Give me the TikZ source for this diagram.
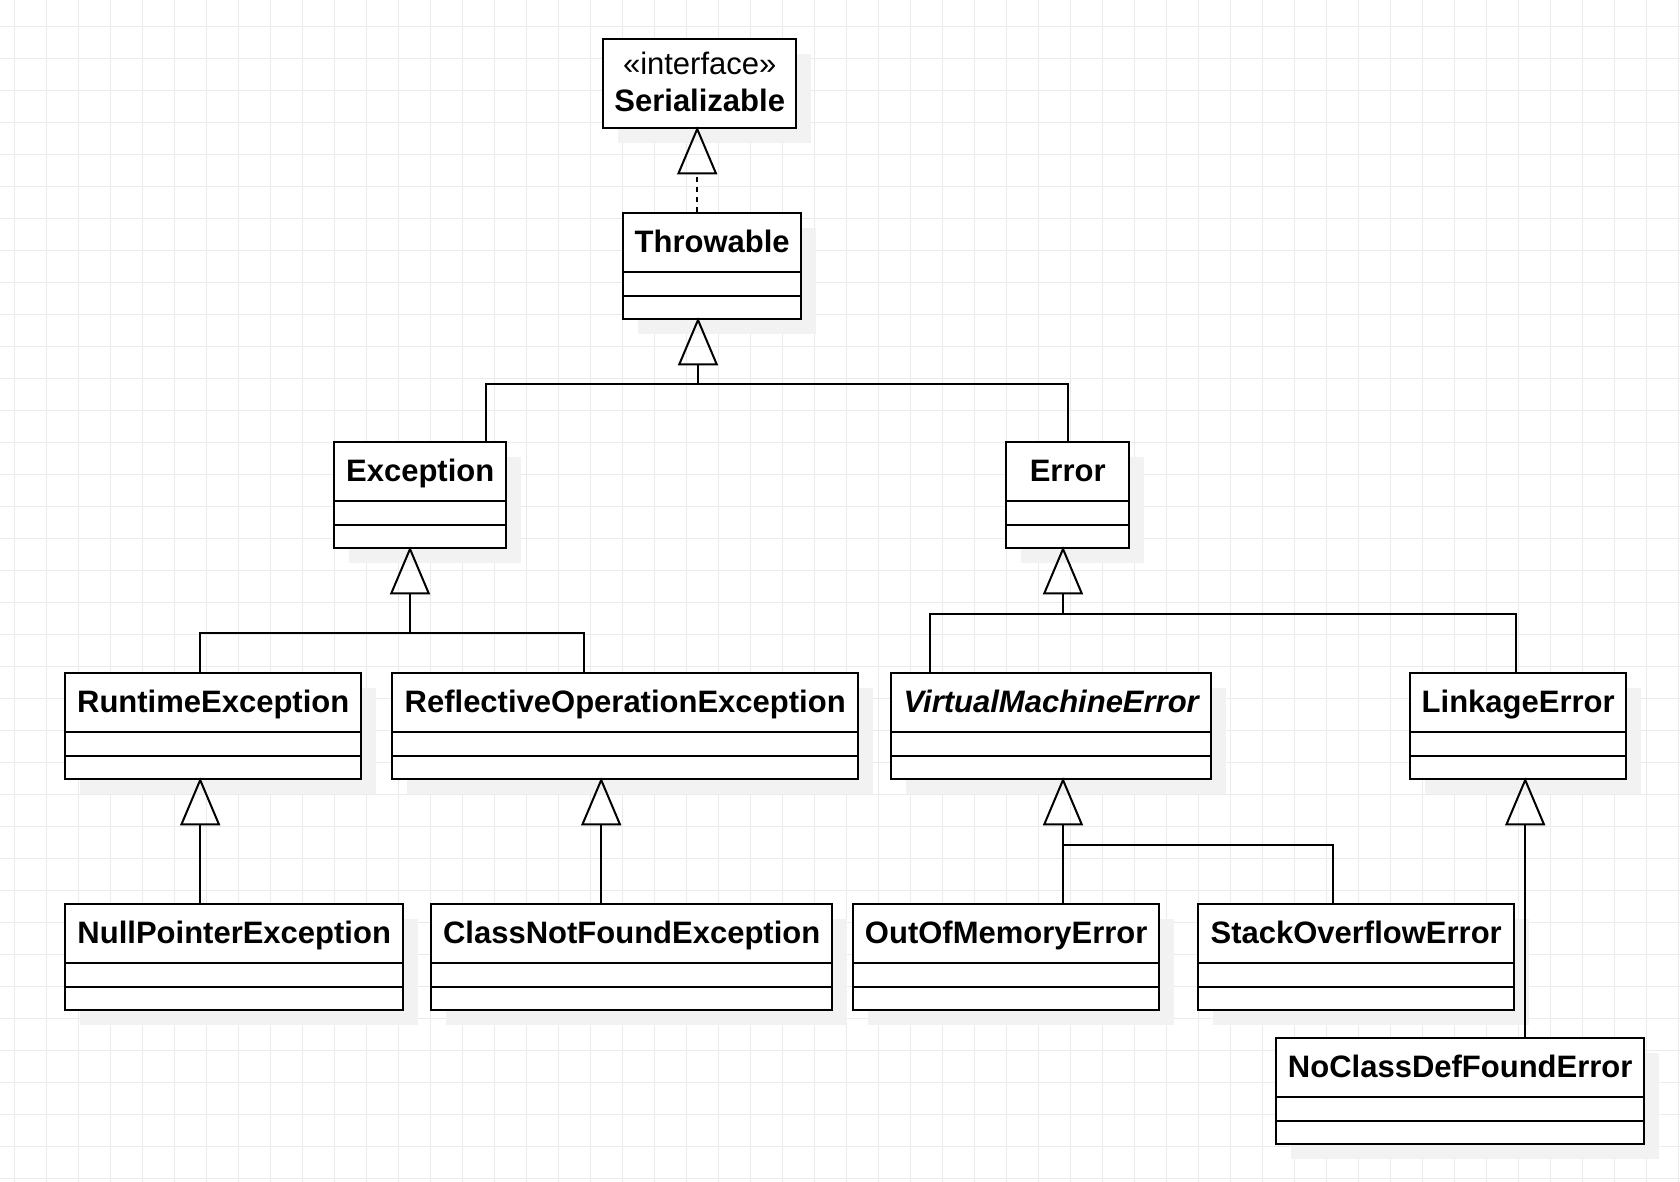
\documentclass[tikz,border=0pt]{standalone}
\usepackage{fontspec}
\setmainfont{Liberation Sans}
\usetikzlibrary{arrows.meta}

\definecolor{gridgray}{HTML}{EBEBEB}
\definecolor{shadowgray}{HTML}{F2F2F2}

\tikzset{
  gridline/.style={draw=gridgray, line width=1pt},
  classbox/.style={draw, line width=2.4pt, fill=white, rectangle, inner sep=0pt, minimum height=106pt},
  classname/.style={inner sep=0pt, font=\fontsize{31}{37}\selectfont\bfseries},
  compline/.style={line width=2pt},
  assoc/.style={line width=2pt},
  inherit/.style={line width=2pt, shorten >=-3pt, -{Triangle[open, length=48pt, width=40pt]}},
  realize/.style={inherit, dash pattern=on 5pt off 5pt},
}

% class box: name, left, right, top, text
\newcommand{\umlclass}[5]{%
  \fill[shadowgray] (#2+16,#4+16) rectangle (#3+16,#4+122);
  \node[classbox, minimum width={#3-#2}, anchor=north west] (#1) at (#2,#4) {};
  \draw[compline] ([yshift=-60pt]#1.north west) -- ([yshift=-60pt]#1.north east);
  \draw[compline] ([yshift=-84pt]#1.north west) -- ([yshift=-84pt]#1.north east);
  \node[classname, anchor=base] (#1-name) at ([yshift=-40pt]#1.north) {#5};
}

\begin{document}
\begin{tikzpicture}[x=1pt, y=-1pt]
        \useasboundingbox (0,0) rectangle (1680,1182);
        \fill[white] (0,0) rectangle (1680,1182);

        % Grid
        \foreach \gx in {0,...,52}
            \draw[gridline] (14.3+32*\gx,0) -- (14.3+32*\gx,1182);
        \foreach \gy in {0,...,36}
            \draw[gridline] (0,26.3+32*\gy) -- (1680,26.3+32*\gy);

        % Interface
        \fill[shadowgray] (618,54) rectangle (811,143);
        \node[classbox, minimum width=193, minimum height=89, anchor=north west] (serializable) at (602,38) {};
        \node[classname, font=\fontsize{31}{37}\selectfont, anchor=base] (serializable-stereo) at ([yshift=-37pt]serializable.north) {«interface»};
        \node[classname, anchor=base] (serializable-name) at ([yshift=-74pt]serializable.north) {Serializable};

        % Classes
        \umlclass{throwable}{622}{800}{212}{Throwable}
        \umlclass{exception}{333}{505}{441}{Exception}
        \umlclass{error}{1005}{1128}{441}{Error}
        \umlclass{runtime}{64}{360}{672}{RuntimeException}
        \umlclass{reflective}{391}{857}{672}{ReflectiveOperationException}
        \umlclass{vmerror}{890}{1210}{672}{\itshape VirtualMachineError}
        \umlclass{linkage}{1409}{1625}{672}{LinkageError}
        \umlclass{nullpointer}{64}{402}{903}{NullPointerException}
        \umlclass{classnotfound}{430}{831}{903}{ClassNotFoundException}
        \umlclass{outofmemory}{852}{1158}{903}{OutOfMemoryError}
        \umlclass{stackoverflow}{1197}{1513}{903}{StackOverflowError}
        \umlclass{noclassdef}{1275}{1643}{1037}{NoClassDefFoundError}

        % Realization
        \coordinate (serialpt) at ([xshift=-15pt]throwable.north);
        \draw[realize] (serialpt) -- (serialpt |- serializable.south);

        % Throwable children
        \coordinate (throwbus) at (698,384);
        \draw[assoc] ([xshift=66pt]exception.north) |- (throwbus) -| (error.north);
        \draw[inherit] (throwbus) -- (throwbus |- throwable.south);

        % Exception children
        \coordinate (excbus) at (410,633);
        \draw[assoc] ([xshift=-13pt]runtime.north) |- (excbus) -| ([xshift=-41pt]reflective.north);
        \draw[inherit] (excbus) -- (excbus |- exception.south);

        % Error children
        \coordinate (errbus) at (1063,614);
        \draw[assoc] ([xshift=-121pt]vmerror.north) |- (errbus) -| ([xshift=-2pt]linkage.north);
        \draw[inherit] (errbus) -- (errbus |- error.south);

        % RuntimeException
        \coordinate (rtarrow) at ([xshift=-13pt]runtime.south);
        \draw[inherit] (rtarrow |- nullpointer.north) -- (rtarrow);

        % ReflectiveOperationException
        \coordinate (refarrow) at ([xshift=-24pt]reflective.south);
        \draw[inherit] (refarrow |- classnotfound.north) -- (refarrow);

        % VirtualMachineError children
        \coordinate (vmebus) at (1063,845);
        \draw[assoc] (vmebus |- outofmemory.north) -- (vmebus) -| ([xshift=-23pt]stackoverflow.north);
        \draw[inherit] (vmebus) -- (vmebus |- vmerror.south);

        % LinkageError
        \coordinate (linkarrow) at ([xshift=7pt]linkage.south);
        \draw[inherit] (linkarrow |- noclassdef.north) -- (linkarrow);
    \end{tikzpicture}
\end{document}
